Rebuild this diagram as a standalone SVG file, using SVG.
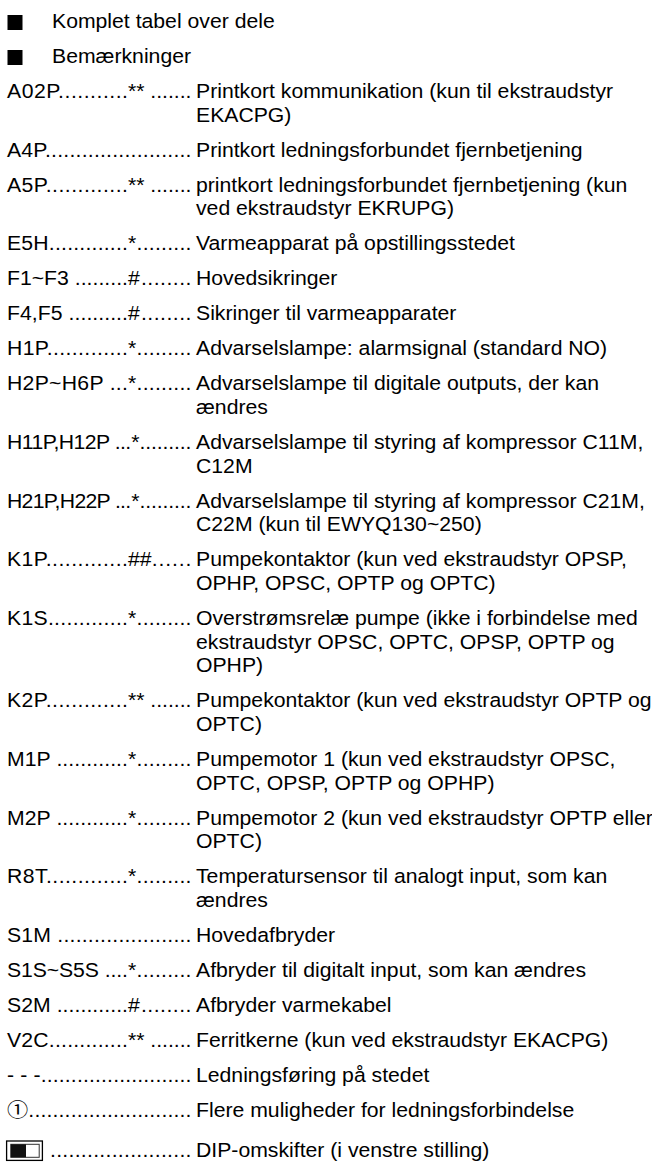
<svg xmlns="http://www.w3.org/2000/svg" width="652" height="1162" viewBox="0 0 652 1162">
<style>
.t{font-family:"Liberation Sans",Arial,"Noto Sans CJK JP",sans-serif;font-size:19.5px;fill:#000}
.sq{fill:#000}
</style>
<rect width="652" height="1162" fill="#fff"/>
<g id="bullets">
<rect class="sq" x="7.5" y="15" width="15" height="15"/>
<rect class="sq" x="7.5" y="50" width="15" height="15"/>
</g>
<g id="dip-icon">
<rect x="6.6" y="1141" width="35.8" height="19.4" fill="none" stroke="#000" stroke-width="1.3"/>
<rect x="10.8" y="1144.3" width="28.4" height="13" fill="#fff" stroke="#333" stroke-width="1"/>
<rect x="10.8" y="1144.3" width="15.2" height="13" fill="#111"/>
</g>
<g transform="scale(1.088 1)">
<g id="head1"><text class="t" x="47.8" y="28">Komplet tabel over dele</text></g>
<g id="head2"><text class="t" x="47.8" y="63">Bemærkninger</text></g>

<g id="A02P">
<text class="t" x="6.43" y="98" textLength="111.2" lengthAdjust="spacing">A02P...........</text>
<text class="t" x="117.65" y="98">**</text>
<text class="t" x="138.2" y="98" textLength="37.8" lengthAdjust="spacing">.......</text>
<text class="t" x="180.15" y="98">Printkort kommunikation (kun til ekstraudstyr<tspan x="180.15" y="122">EKACPG)</tspan></text>
</g>
<g id="A4P">
<text class="t" x="6.43" y="157" textLength="169.6" lengthAdjust="spacing">A4P........................</text>
<text class="t" x="180.15" y="157">Printkort ledningsforbundet fjernbetjening</text>
</g>
<g id="A5P">
<text class="t" x="6.43" y="192" textLength="111.2" lengthAdjust="spacing">A5P.............</text>
<text class="t" x="117.65" y="192">**</text>
<text class="t" x="138.2" y="192" textLength="37.8" lengthAdjust="spacing">.......</text>
<text class="t" x="180.15" y="192">printkort ledningsforbundet fjernbetjening (kun<tspan x="180.15" y="215.5">ved ekstraudstyr EKRUPG)</tspan></text>
</g>
<g id="E5H">
<text class="t" x="6.43" y="250.5" textLength="111.2" lengthAdjust="spacing">E5H.............</text>
<text class="t" x="117.65" y="250.5">*</text>
<text class="t" x="125.5" y="250.5" textLength="50.5" lengthAdjust="spacing">.........</text>
<text class="t" x="180.15" y="250.5">Varmeapparat på opstillingsstedet</text>
</g>
<g id="F1F3">
<text class="t" x="6.43" y="285.5" textLength="111.2" lengthAdjust="spacing">F1~F3 .........</text>
<text class="t" x="117.65" y="285.5">#</text>
<text class="t" x="129.5" y="285.5" textLength="46.5" lengthAdjust="spacing">........</text>
<text class="t" x="180.15" y="285.5">Hovedsikringer</text>
</g>
<g id="F4F5">
<text class="t" x="6.43" y="320.5" textLength="111.2" lengthAdjust="spacing">F4,F5 ..........</text>
<text class="t" x="117.65" y="320.5">#</text>
<text class="t" x="129.5" y="320.5" textLength="46.5" lengthAdjust="spacing">........</text>
<text class="t" x="180.15" y="320.5">Sikringer til varmeapparater</text>
</g>
<g id="H1P">
<text class="t" x="6.43" y="355.5" textLength="111.2" lengthAdjust="spacing">H1P.............</text>
<text class="t" x="117.65" y="355.5">*</text>
<text class="t" x="125.5" y="355.5" textLength="50.5" lengthAdjust="spacing">.........</text>
<text class="t" x="180.15" y="355.5">Advarselslampe: alarmsignal (standard NO)</text>
</g>
<g id="H2PH6P">
<text class="t" x="6.43" y="390.5" textLength="111.2" lengthAdjust="spacing">H2P~H6P ...</text>
<text class="t" x="117.65" y="390.5">*</text>
<text class="t" x="125.5" y="390.5" textLength="50.5" lengthAdjust="spacing">.........</text>
<text class="t" x="180.15" y="390.5">Advarselslampe til digitale outputs, der kan<tspan x="180.15" y="414">ændres</tspan></text>
</g>
<g id="H11PH12P">
<text class="t" x="6.43" y="449" textLength="114.2" lengthAdjust="spacing">H11P,H12P ...</text>
<text class="t" x="120.6" y="449">*</text>
<text class="t" x="128.2" y="449" textLength="47.8" lengthAdjust="spacing">.........</text>
<text class="t" x="180.15" y="449">Advarselslampe til styring af kompressor C11M,<tspan x="180.15" y="473">C12M</tspan></text>
</g>
<g id="H21PH22P">
<text class="t" x="6.43" y="508" textLength="114.2" lengthAdjust="spacing">H21P,H22P ...</text>
<text class="t" x="120.6" y="508">*</text>
<text class="t" x="128.2" y="508" textLength="47.8" lengthAdjust="spacing">.........</text>
<text class="t" x="180.15" y="508">Advarselslampe til styring af kompressor C21M,<tspan x="180.15" y="531.5">C22M (kun til EWYQ130~250)</tspan></text>
</g>
<g id="K1P">
<text class="t" x="6.43" y="566.5" textLength="111.2" lengthAdjust="spacing">K1P.............</text>
<text class="t" x="117.65" y="566.5">##</text>
<text class="t" x="139.5" y="566.5" textLength="36.5" lengthAdjust="spacing">......</text>
<text class="t" x="180.15" y="566.5">Pumpekontaktor (kun ved ekstraudstyr OPSP,<tspan x="180.15" y="590">OPHP, OPSC, OPTP og OPTC)</tspan></text>
</g>
<g id="K1S">
<text class="t" x="6.43" y="625" textLength="111.2" lengthAdjust="spacing">K1S.............</text>
<text class="t" x="117.65" y="625">*</text>
<text class="t" x="125.5" y="625" textLength="50.5" lengthAdjust="spacing">.........</text>
<text class="t" x="180.15" y="625">Overstrømsrelæ pumpe (ikke i forbindelse med<tspan x="180.15" y="649">ekstraudstyr OPSC, OPTC, OPSP, OPTP og</tspan><tspan x="180.15" y="672.5">OPHP)</tspan></text>
</g>
<g id="K2P">
<text class="t" x="6.43" y="707.5" textLength="111.2" lengthAdjust="spacing">K2P.............</text>
<text class="t" x="117.65" y="707.5">**</text>
<text class="t" x="138.2" y="707.5" textLength="37.8" lengthAdjust="spacing">.......</text>
<text class="t" x="180.15" y="707.5">Pumpekontaktor (kun ved ekstraudstyr OPTP og<tspan x="180.15" y="731">OPTC)</tspan></text>
</g>
<g id="M1P">
<text class="t" x="6.43" y="766" textLength="111.2" lengthAdjust="spacing">M1P ............</text>
<text class="t" x="117.65" y="766">*</text>
<text class="t" x="125.5" y="766" textLength="50.5" lengthAdjust="spacing">.........</text>
<text class="t" x="180.15" y="766">Pumpemotor 1 (kun ved ekstraudstyr OPSC,<tspan x="180.15" y="790">OPTC, OPSP, OPTP og OPHP)</tspan></text>
</g>
<g id="M2P">
<text class="t" x="6.43" y="825" textLength="111.2" lengthAdjust="spacing">M2P ............</text>
<text class="t" x="117.65" y="825">*</text>
<text class="t" x="125.5" y="825" textLength="50.5" lengthAdjust="spacing">.........</text>
<text class="t" x="180.15" y="825">Pumpemotor 2 (kun ved ekstraudstyr OPTP eller<tspan x="180.15" y="848.5">OPTC)</tspan></text>
</g>
<g id="R8T">
<text class="t" x="6.43" y="883.5" textLength="111.2" lengthAdjust="spacing">R8T.............</text>
<text class="t" x="117.65" y="883.5">*</text>
<text class="t" x="125.5" y="883.5" textLength="50.5" lengthAdjust="spacing">.........</text>
<text class="t" x="180.15" y="883.5">Temperatursensor til analogt input, som kan<tspan x="180.15" y="907">ændres</tspan></text>
</g>
<g id="S1M">
<text class="t" x="6.43" y="942" textLength="169.6" lengthAdjust="spacing">S1M ......................</text>
<text class="t" x="180.15" y="942">Hovedafbryder</text>
</g>
<g id="S1SS5S">
<text class="t" x="6.43" y="977" textLength="111.2" lengthAdjust="spacing">S1S~S5S ....</text>
<text class="t" x="117.65" y="977">*</text>
<text class="t" x="125.5" y="977" textLength="50.5" lengthAdjust="spacing">.........</text>
<text class="t" x="180.15" y="977">Afbryder til digitalt input, som kan ændres</text>
</g>
<g id="S2M">
<text class="t" x="6.43" y="1012" textLength="111.2" lengthAdjust="spacing">S2M ............</text>
<text class="t" x="117.65" y="1012">#</text>
<text class="t" x="129.5" y="1012" textLength="46.5" lengthAdjust="spacing">........</text>
<text class="t" x="180.15" y="1012">Afbryder varmekabel</text>
</g>
<g id="V2C">
<text class="t" x="6.43" y="1047" textLength="111.2" lengthAdjust="spacing">V2C.............</text>
<text class="t" x="117.65" y="1047">**</text>
<text class="t" x="138.2" y="1047" textLength="37.8" lengthAdjust="spacing">.......</text>
<text class="t" x="180.15" y="1047">Ferritkerne (kun ved ekstraudstyr EKACPG)</text>
</g>
<g id="dashed">
<text class="t" x="6.43" y="1082" textLength="169.6" lengthAdjust="spacing">- - -.........................</text>
<text class="t" x="180.15" y="1082">Ledningsføring på stedet</text>
</g>
<g id="circled1">
<text class="t" x="6.43" y="1117" textLength="169.6" lengthAdjust="spacing">①...........................</text>
<text class="t" x="180.15" y="1117">Flere muligheder for ledningsforbindelse</text>
</g>
<g id="dip">
<text class="t" x="46" y="1157" textLength="130" lengthAdjust="spacing">.......................</text>
<text class="t" x="180.15" y="1157">DIP-omskifter (i venstre stilling)</text>
</g>
</g>
</svg>
